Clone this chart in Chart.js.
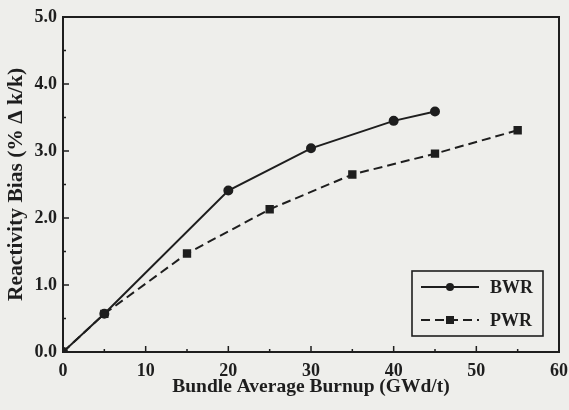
<!DOCTYPE html>
<html>
<head>
<meta charset="utf-8">
<script src="https://cdn.jsdelivr.net/npm/chart.js@4"></script>
<style>
  html, body { margin: 0; padding: 0; background: #eeeeeb; }
  #wrap { width: 569px; height: 410px; }
</style>
</head>
<body>
<div id="wrap"><canvas id="c" width="569" height="410"></canvas></div>
<script>
// burnup (GWd/t) vs reactivity bias (% Δk/k)
const bwrBurnup = [0, 5, 20, 30, 40, 45];
const bwrBias   = [0, 0.57, 2.41, 3.04, 3.45, 3.59];
const pwrBurnup = [0, 5, 15, 25, 35, 45, 55];
const pwrBias   = [0, 0.57, 1.47, 2.13, 2.65, 2.96, 3.31];
const xTicks = [0, 10, 20, 30, 40, 50, 60];
const yTicks = [0, 1, 2, 3, 4, 5];

const INK = '#1e1e1e';
const FONT = '"Liberation Serif", "DejaVu Serif", serif';

const pts = (xs, ys) => xs.map((x, i) => ({ x, y: ys[i] }));

// frame, inward tick marks, boxed legend inside the plot
const decor = {
  id: 'decor',
  afterDraw(chart) {
    const { ctx, chartArea: a, scales: { x, y } } = chart;
    ctx.save();
    ctx.strokeStyle = INK;
    ctx.lineWidth = 2;
    ctx.strokeRect(a.left, a.top, a.right - a.left, a.bottom - a.top);

    ctx.lineWidth = 1.5;
    ctx.beginPath();
    for (let v = 5; v < 60; v += 5) {
      const px = x.getPixelForValue(v), len = v % 10 ? 3 : 6;
      ctx.moveTo(px, a.bottom); ctx.lineTo(px, a.bottom - len);
    }
    for (let v = 0.5; v < 5; v += 0.5) {
      const py = y.getPixelForValue(v), len = (v * 2) % 2 ? 3 : 6;
      ctx.moveTo(a.left, py); ctx.lineTo(a.left + len, py);
    }
    ctx.stroke();

    // legend
    const bw = 131, bh = 65;
    const bx = a.right - 16 - bw, by = a.bottom - 16 - bh;
    ctx.fillStyle = '#eeeeeb';
    ctx.fillRect(bx, by, bw, bh);
    ctx.lineWidth = 1.6;
    ctx.strokeRect(bx, by, bw, bh);
    chart.data.datasets.forEach((ds, i) => {
      const ly = by + 16 + i * 33;
      ctx.strokeStyle = INK;
      ctx.lineWidth = ds.borderWidth;
      ctx.setLineDash(ds.borderDash || []);
      ctx.beginPath();
      ctx.moveTo(bx + 9, ly); ctx.lineTo(bx + 67, ly);
      ctx.stroke();
      ctx.setLineDash([]);
      ctx.fillStyle = INK;
      const mx = bx + 38;
      if (ds.pointStyle === 'rect') {
        ctx.fillRect(mx - 4, ly - 4, 8, 8);
      } else {
        ctx.beginPath(); ctx.arc(mx, ly, 4, 0, Math.PI * 2); ctx.fill();
      }
      ctx.font = `bold 18px ${FONT}`;
      ctx.textBaseline = 'middle';
      ctx.textAlign = 'left';
      ctx.fillText(ds.label, bx + 78, ly + 1);
    });
    ctx.restore();
  }
};

new Chart(document.getElementById('c'), {
  type: 'scatter',
  data: {
    datasets: [
      {
        label: 'BWR',
        data: pts(bwrBurnup, bwrBias),
        showLine: true,
        borderColor: INK,
        backgroundColor: INK,
        borderWidth: 2,
        pointStyle: 'circle',
        pointRadius: 4,
        tension: 0,
      },
      {
        label: 'PWR',
        data: pts(pwrBurnup, pwrBias),
        showLine: true,
        borderColor: INK,
        backgroundColor: INK,
        borderWidth: 2,
        borderDash: [9, 5],
        pointStyle: 'rect',
        pointRadius: 4.5,
        tension: 0,
      },
    ]
  },
  options: {
    responsive: false,
    animation: false,
    layout: { padding: { top: 17, right: 10, left: 0, bottom: 0 } },
    plugins: { legend: { display: false }, tooltip: { enabled: false } },
    scales: {
      x: {
        type: 'linear', min: 0, max: 60,
        afterBuildTicks: s => { s.ticks = xTicks.map(v => ({ value: v })); },
        afterFit: s => { s.height = 58; s.paddingRight = 0; s.paddingLeft = 0; },
        grid: { display: false, drawTicks: false },
        border: { display: false },
        ticks: { color: INK, padding: 9, font: { family: FONT, size: 18, weight: 'bold' } },
        title: {
          display: true, text: 'Bundle Average Burnup (GWd/t)', color: INK,
          padding: { top: 0, bottom: 11 }, font: { family: FONT, size: 19.5, weight: 'bold' }
        }
      },
      y: {
        type: 'linear', min: 0, max: 5,
        afterBuildTicks: s => { s.ticks = yTicks.map(v => ({ value: v })); },
        afterFit: s => { s.width = 63; },
        grid: { display: false, drawTicks: false },
        border: { display: false },
        ticks: {
          color: INK, padding: 6, font: { family: FONT, size: 18, weight: 'bold' },
          callback: v => v.toFixed(1)
        },
        title: {
          display: true, text: 'Reactivity Bias (% \u0394 k/k)', color: INK,
          padding: { top: 4, bottom: 0 }, font: { family: FONT, size: 21.5, weight: 'bold' }
        }
      }
    }
  },
  plugins: [decor]
});
</script>
</body>
</html>
